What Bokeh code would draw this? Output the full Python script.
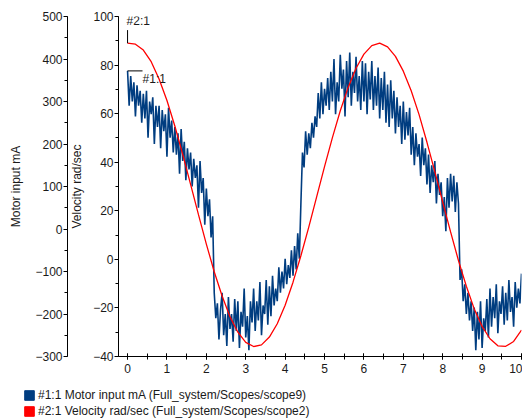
from bokeh.plotting import figure
from bokeh.models import (Range1d, LinearAxis, FixedTicker, SingleIntervalTicker,
                          Legend, LegendItem, Label)
from bokeh.embed import file_html
from bokeh.resources import INLINE

# ---------------- data ----------------
# Motor input current [mA], sampled every 0.04 s
motor_step = 0.04
motor_ma = [
    372, 290, 360, 300, 345, 265, 338, 290, 325, 250,
    318, 260, 325, 215, 300, 270, 310, 200, 290, 240,
    290, 190, 280, 230, 270, 170, 285, 215, 255, 180,
    240, 175, 225, 130, 235, 160, 205, 115, 190, 140,
    180, 100, 165, 120, 150, 50, 160, 85, 120, 10,
    95, 30, 70, -20, 30, -150, -210, -175, -260, -190,
    -150, -250, -200, -275, -160, -235, -200, -265, -165, -240,
    -170, -280, -195, -230, -140, -255, -205, -285, -170, -220,
    -140, -240, -170, -215, -125, -250, -180, -200, -120, -225,
    -135, -205, -110, -180, -140, -170, -90, -150, -100, -140,
    -70, -130, -85, -115, -50, -110, -40, -95, -10, -70,
    60, 180, 145, 230, 175, 225, 190, 250, 215, 265,
    240, 320, 260, 345, 270, 330, 290, 355, 280, 370,
    300, 400, 270, 345, 300, 410, 330, 375, 265, 395,
    310, 415, 290, 370, 320, 405, 300, 360, 280, 395,
    300, 390, 270, 370, 305, 395, 280, 360, 290, 380,
    260, 355, 280, 370, 250, 340, 240, 350, 260, 325,
    225, 310, 240, 290, 200, 300, 210, 275, 220, 285,
    175, 240, 150, 225, 170, 200, 125, 215, 150, 190,
    105, 175, 85, 150, 110, 160, 60, 130, 80, 110,
    30, 75, -5, 120, 50, 130, 65, 125, 40, 110,
    60, -120, -95, -170, -130, -200, -150, -215, -170, -240,
    -185, -285, -195, -260, -170, -280, -210, -240, -165, -255,
    -140, -230, -160, -210, -130, -245, -170, -200, -135, -225,
    -150, -215, -120, -195, -160, -230, -125, -185, -140, -175, -105,
]
t_motor = [round(i * motor_step, 2) for i in range(len(motor_ma))]

# Velocity [rad/sec], sampled every 0.2 s
vel_step = 0.2
velocity = [
    89.0, 88.6, 86.2, 81.4, 74.3, 65.4, 54.9, 43.2, 30.9, 18.4,
    6.3, -5.1, -15.1, -23.6, -30.0, -34.2, -35.9, -35.2, -32.0, -26.5,
    -18.9, -9.4, 1.5, 13.3, 25.7, 38.2, 50.1, 61.2, 70.8, 78.7,
    84.5, 88.0, 89.0, 87.5, 83.6, 77.5, 69.4, 59.6, 48.2, 36.1,
    23.6, 11.3, -0.5, -11.1, -20.4, -27.6, -32.7, -35.6, -35.8, -33.8,
    -29.1,
]
t_vel = [round(i * vel_step, 2) for i in range(len(velocity))]

series_labels = ["#1:1 Motor input mA (Full_system/Scopes/scope9)",
                 "#2:1 Velocity rad/sec (Full_system/Scopes/scope2)"]
marker_labels = ["#1:1", "#2:1"]

BLUE = "#003d80"
RED = "#ff0000"
FONT = "Liberation Sans"
FS = "12px"
TXT = "#1a1a1a"

p = figure(width=522, height=380, output_backend="svg", toolbar_location=None,
           x_range=Range1d(-0.23, 10), y_range=Range1d(-40, 100),
           min_border_left=118, min_border_right=1, min_border_top=16,
           min_border_bottom=24)
p.extra_y_ranges = {"motor": Range1d(-300, 500)}
p.outline_line_color = None
p.xgrid.visible = False
p.ygrid.visible = False


def style_axis(ax):
    ax.axis_line_color = "black"
    ax.major_tick_line_color = "black"
    ax.minor_tick_line_color = "black"
    ax.major_label_text_font = FONT
    ax.major_label_text_font_size = FS
    ax.major_label_text_color = TXT
    ax.axis_label_text_font = FONT
    ax.axis_label_text_font_size = FS
    ax.axis_label_text_font_style = "normal"
    ax.axis_label_text_color = TXT


# x axis
xa = p.xaxis[0]
style_axis(xa)
xa.ticker = SingleIntervalTicker(interval=1, num_minor_ticks=2)
xa.major_tick_in = 3
xa.major_tick_out = 3
xa.minor_tick_in = 3
xa.minor_tick_out = 3
xa.major_label_standoff = 4

# velocity axis (inner left)
va = p.yaxis[0]
style_axis(va)
va.ticker = SingleIntervalTicker(interval=20, num_minor_ticks=2)
va.axis_label = "Velocity rad/sec"
va.major_tick_in = 0
va.major_tick_out = 4
va.minor_tick_in = 0
va.minor_tick_out = 3
va.major_label_standoff = 1
va.axis_label_standoff = 6

# spacer between the two left axes
sp = LinearAxis(y_range_name="motor", ticker=FixedTicker(ticks=[]),
                axis_line_color=None, major_tick_line_color=None,
                minor_tick_line_color=None, major_tick_in=0, major_tick_out=11,
                major_label_standoff=0)
p.add_layout(sp, "left")

# motor axis (outer left)
ma = LinearAxis(y_range_name="motor", axis_label="Motor input mA")
style_axis(ma)
ma.ticker = SingleIntervalTicker(interval=100, num_minor_ticks=2)
ma.major_tick_in = 0
ma.major_tick_out = 4
ma.minor_tick_in = 0
ma.minor_tick_out = 3
ma.major_label_standoff = 1
ma.axis_label_standoff = 9
p.add_layout(ma, "left")

# data lines
p.line(t_motor, motor_ma, y_range_name="motor", line_color=BLUE, line_width=1.6)
p.line(t_vel, velocity, line_color=RED, line_width=1.3)

# start markers
p.segment(x0=[t_vel[0]], y0=[velocity[0]], x1=[t_vel[0]], y1=[velocity[0] + 5.4],
          line_color="black", line_width=1)
p.segment(x0=[t_motor[0]], y0=[motor_ma[0]], x1=[t_motor[0] + 0.38], y1=[motor_ma[0]],
          y_range_name="motor", line_color="black", line_width=1)
p.add_layout(Label(x=t_vel[0], y=velocity[0], text=marker_labels[1], x_offset=-1,
                   y_offset=22, text_baseline="middle", text_font=FONT,
                   text_font_size=FS, text_color=TXT))
p.add_layout(Label(x=t_motor[0], y=motor_ma[0], y_range_name="motor",
                   text=marker_labels[0], x_offset=15, y_offset=-8,
                   text_baseline="middle", text_font=FONT, text_font_size=FS,
                   text_color=TXT))

# legend in its own strip below the chart, with square swatches
lg = figure(width=522, height=40, output_backend="svg", toolbar_location=None,
            x_axis_type=None, y_axis_type=None, x_range=Range1d(0, 1),
            y_range=Range1d(0, 1), min_border_left=0, min_border_right=0,
            min_border_top=0, min_border_bottom=0)
lg.outline_line_color = None
lg.xgrid.visible = False
lg.ygrid.visible = False
# swatch renderers (their single box lies outside the strip's visible range)
q1 = lg.quad(left=[2], right=[3], top=[3], bottom=[2], fill_color=BLUE, line_color=BLUE)
q2 = lg.quad(left=[2], right=[3], top=[3], bottom=[2], fill_color=RED, line_color=RED)
legend = Legend(items=[LegendItem(label=series_labels[0], renderers=[q1]),
                       LegendItem(label=series_labels[1], renderers=[q2])],
                location=(23, 2), orientation="vertical",
                border_line_color=None, background_fill_alpha=0,
                padding=0, margin=0, spacing=2, label_height=12,
                glyph_height=12, glyph_width=12, label_standoff=3,
                label_text_font=FONT, label_text_font_size=FS,
                label_text_color=TXT)
lg.add_layout(legend)

open("out.html", "w").write(file_html([p, lg], INLINE))
